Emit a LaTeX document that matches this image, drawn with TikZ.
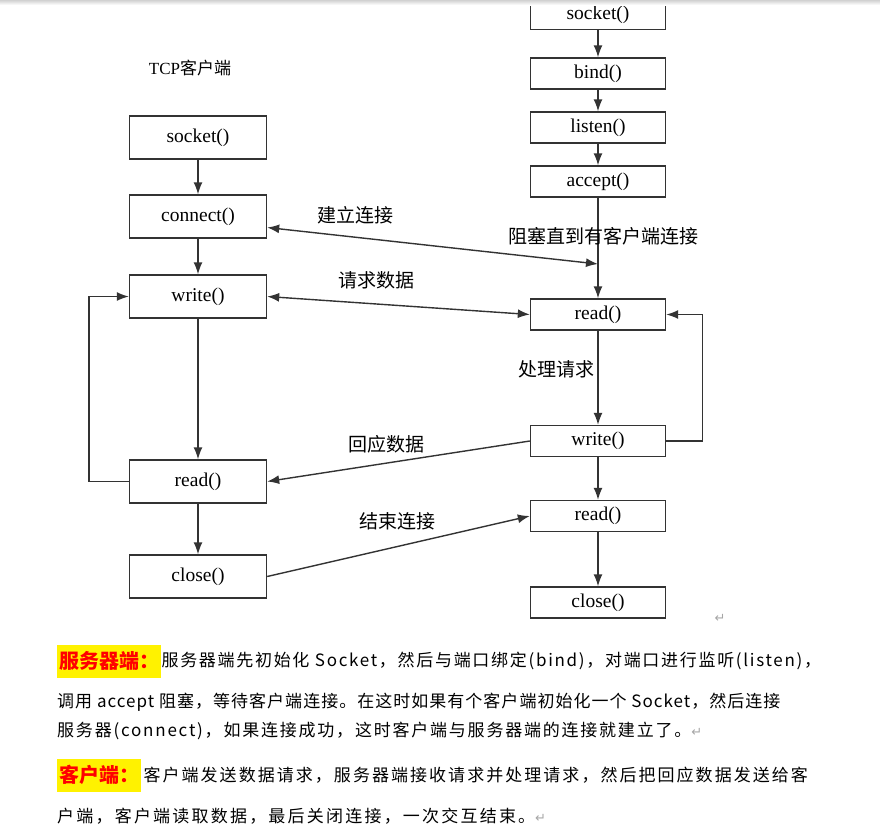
\documentclass[tikz,border=0pt]{standalone}
\usepackage{fontspec}
\setmainfont{Liberation Serif}
\newfontfamily\cjk{Noto Sans CJK SC}
\newfontfamily\symb{DejaVu Sans}
\usetikzlibrary{arrows.meta}

\tikzset{
	fn/.style={draw=black!80, line width=1.4pt, minimum width=137pt, minimum height=43pt, inner sep=0pt, font=\fontsize{19.5}{19.5}\selectfont},
	sfn/.style={fn, minimum width=135pt, minimum height=31pt},
	lbl/.style={inner sep=0pt, font=\cjk\fontsize{19}{19}\selectfont},
	flow/.style={draw=black!80, line width=1.4pt, -{Latex[length=12pt,width=9pt]}},
	both/.style={flow, {Latex[length=12pt,width=9pt]}-{Latex[length=12pt,width=9pt]}},
	para/.style={anchor=west, inner sep=0pt, font=\cjk\fontsize{17}{17}\selectfont\addfontfeatures{LetterSpace=#1}},
	para/.default=10,
	hilite/.style={fill=yellow, text=red, anchor=west, inner xsep=2pt, minimum height=33pt, font=\cjk\bfseries\fontsize{20}{20}\selectfont},
}
\newcommand{\ret}{{\symb\color{black!35}\fontsize{13}{13}\selectfont ↵}}

\begin{document}
\begin{tikzpicture}[x=1pt,y=-1pt]
		\clip (0,0) rectangle (880,839);

		% client side
		\node[lbl, font=\fontsize{17}{17}\selectfont] (ctitle) at (190,68) {TCP{\cjk 客户端}};
		\node[fn] (csocket) at (198,137.5) {socket()};
		\node[fn] (cconnect) at (198,216.5) {connect()};
		\node[fn] (cwrite) at (198,296.5) {write()};
		\node[fn] (cread) at (198,481.5) {read()};
		\node[fn] (cclose) at (198,576.5) {close()};

		% server side
		\node[sfn, minimum height=30pt] (ssocket) at (598,14.5) {socket()};
		\node[sfn] (sbind) at (598,73.5) {bind()};
		\node[sfn] (slisten) at (598,127.5) {listen()};
		\node[sfn] (saccept) at (598,181.5) {accept()};
		\node[sfn] (sread) at (598,314.5) {read()};
		\node[sfn] (swrite) at (598,441) {write()};
		\node[sfn] (sread2) at (598,516) {read()};
		\node[sfn] (sclose) at (598,602.5) {close()};
		\coordinate (sjoin) at (598,264);

		\fill[top color=black!18, bottom color=white] (0,0) rectangle (880,5);

		\foreach \a/\b in {csocket/cconnect, cconnect/cwrite, cwrite/cread, cread/cclose, ssocket/sbind, sbind/slisten, slisten/saccept, saccept/sread, sread/swrite, swrite/sread2, sread2/sclose}{
			\draw[flow] (\a) -- (\b);
		}

		% loops
		\draw[flow] (cread.west) -- ++(-40,0) |- (cwrite.west);
		\draw[flow] (swrite.east) -- ++(36,0) |- (sread.east);

		% messages
		\draw[both] ([yshift=-11pt]cconnect.east) -- (sjoin);
		\draw[both] (cwrite.east) -- (sread.west);
		\draw[flow] (swrite.west) -- (cread.east);
		\draw[flow] (cclose.east) -- (sread2.west);

		\node[lbl] (lconnect) at (355,215) {建立连接};
		\node[lbl] (lblock) at (603,236) {阻塞直到有客户端连接};
		\node[lbl] (lrequest) at (376,280) {请求数据};
		\node[lbl] (lprocess) at (556,369) {处理请求};
		\node[lbl] (lreply) at (386,444) {回应数据};
		\node[lbl] (lend) at (397,521) {结束连接};
		\node[inner sep=0pt] (ret1) at (720,618) {\ret};

		% text below
		\node[hilite] (hserver) at (57,661) {服务器端：};
		\node[para] (t1) at (hserver.east) {服务器端先初始化 Socket，然后与端口绑定(bind)，对端口进行监听(listen)，};
		\node[para=6] (t2) at (57,702) {调用 accept 阻塞，等待客户端连接。在这时如果有个客户端初始化一个 Socket，然后连接};
		\node[para=10.5] (t3) at (57,731) {服务器(connect)，如果连接成功，这时客户端与服务器端的连接就建立了。\ret};
		\node[hilite] (hclient) at (57,775) {客户端：};
		\node[para=12] (t4) at ([xshift=2pt]hclient.east) {客户端发送数据请求，服务器端接收请求并处理请求，然后把回应数据发送给客};
		\node[para=13] (t5) at (57,816) {户端，客户端读取数据，最后关闭连接，一次交互结束。\ret};
	\end{tikzpicture}
\end{document}
